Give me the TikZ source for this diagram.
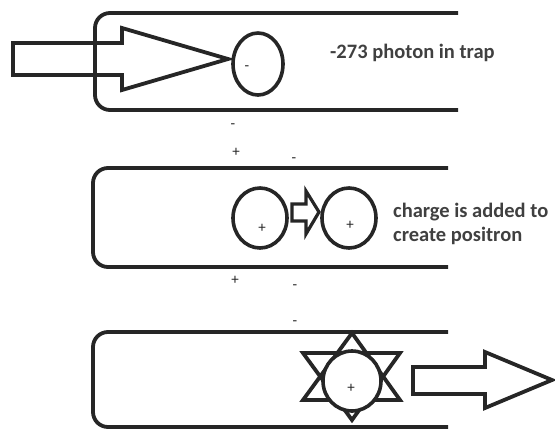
\documentclass[tikz,border=0pt]{standalone}
\usepackage{fontspec}
\setmainfont{Carlito}
\usepackage{tikz}
\usetikzlibrary{shapes.geometric, positioning}
\tikzset{
    trap/.style={draw=black!85, line width=3.8pt, rounded corners=15pt},
    blockarrow/.style={draw=black!85, line width=3.8pt, line join=miter},
    particle/.style={draw=black!85, ellipse, line width=3.6pt, inner sep=0pt},
    charge/.style={font=\fontsize{15}{18}\selectfont, text=black!85, inner sep=0pt},
    caption/.style={font=\fontsize{20.5}{24}\selectfont\bfseries, text=black!75, align=left, anchor=west, inner sep=0pt}
}

\begin{document}
\begin{tikzpicture}[x=1pt, y=-1pt]
        \useasboundingbox (0,0) rectangle (555,432);

        % -----------------------------------------------------------------
        % TRAP 1
        % -----------------------------------------------------------------
        \draw[trap] (458,13) -- (95,13) -- (95,110) -- (458,110);
        \draw[blockarrow] (13,43) -- (122,43) -- (122,28) -- (228,59) -- (122,90) -- (122,75) -- (13,75) -- cycle;
        \node[particle, minimum width=50pt, minimum height=62pt] (photon) at (258,64) {};
        \node[charge] (photonq) at (247,68) {-};
        \node[caption] (cap1) at (330,53) {-273 photon in trap};

        % -----------------------------------------------------------------
        % CHARGES BETWEEN 1 AND 2
        % -----------------------------------------------------------------
        \node[charge] (q1) at (233,126) {-};
        \node[charge] (q2) at (236,152) {+};
        \node[charge] (q3) at (294,160) {-};

        % -----------------------------------------------------------------
        % TRAP 2
        % -----------------------------------------------------------------
        \draw[trap] (448,168) -- (93,168) -- (93,267) -- (448,267);
        \node[particle, minimum width=54pt, minimum height=60pt] (before) at (260,218) {};
        \node[particle, minimum width=54pt, minimum height=60pt] (after) at (349,218) {};
        \node[charge] (beforeq) at (262,228) {+};
        \node[charge] (afterq) at (350,225) {+};
        \draw[blockarrow, line width=3.2pt] (292,204) -- (306,204) -- (306,191) -- (319,212) -- (306,234) -- (306,221) -- (292,221) -- cycle;
        \node[caption] (cap2) at (393,224) {charge is added to\\create positron};

        % -----------------------------------------------------------------
        % CHARGES BETWEEN 2 AND 3
        % -----------------------------------------------------------------
        \node[charge] (q4) at (235,280) {+};
        \node[charge] (q5) at (295,287) {-};
        \node[charge] (q6) at (295,323) {-};

        % -----------------------------------------------------------------
        % TRAP 3
        % -----------------------------------------------------------------
        \draw[trap] (448,332) -- (93,332) -- (93,427) -- (448,427);
        \draw[blockarrow] (352,333) -- (400,400) -- (303,400) -- cycle;
        \draw[blockarrow] (352,420) -- (400,353) -- (303,353) -- cycle;
        \node[particle, fill=white, minimum width=58pt, minimum height=60pt] (positron) at (352,381) {};
        \node[charge] (positronq) at (351,388) {+};
        \draw[blockarrow] (413,367) -- (485,367) -- (485,352) -- (552,380) -- (485,408) -- (485,394) -- (413,394) -- cycle;

\end{tikzpicture}
\end{document}
